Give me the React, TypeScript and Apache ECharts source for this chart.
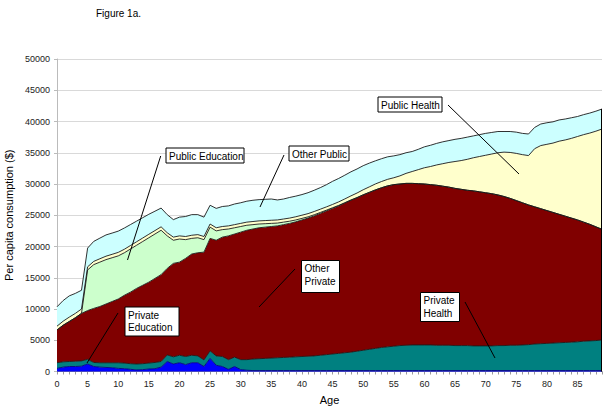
import React, { useEffect, useRef } from "react";
import * as echarts from "echarts";

const ages: string[] = Array.from({ length: 90 }, (_, i) => String(i));

const privateEducation = [
  500, 700, 800, 800, 850, 1200, 800, 700, 650, 600,
  500, 450, 350, 250, 300, 400, 450, 700, 1600, 1200,
  1400, 1100, 1400, 1400, 800, 2100, 1000, 800, 350, 800,
  300, 200, 150, 150, 150, 150, 150, 150, 150, 150,
  150, 150, 150, 150, 150, 150, 150, 150, 150, 150,
  150, 150, 150, 150, 150, 150, 150, 150, 150, 150,
  150, 150, 150, 150, 150, 150, 150, 150, 150, 150,
  150, 150, 150, 150, 150, 150, 150, 150, 150, 150,
  150, 150, 150, 150, 150, 150, 150, 150, 150, 150,
];

const privateHealth = [
  900, 850, 800, 850, 850, 750, 650, 700, 750, 800,
  900, 900, 900, 950, 950, 950, 1000, 900, 1050, 1150,
  1200, 1300, 1200, 1100, 1050, 1200, 1500, 1600, 1550, 1500,
  1600, 1700, 1850, 1900, 1950, 2000, 2050, 2100, 2150, 2200,
  2250, 2300, 2350, 2450, 2550, 2650, 2750, 2850, 2950, 3100,
  3250, 3400, 3550, 3700, 3800, 3900, 4000, 4050, 4100, 4100,
  4100, 4100, 4050, 4050, 4050, 4000, 4000, 4000, 3950, 3950,
  3950, 3950, 4000, 4000, 4050, 4050, 4100, 4150, 4250, 4300,
  4350, 4400, 4450, 4500, 4550, 4600, 4700, 4750, 4800, 4900,
];

const otherPrivate = [
  5250, 5850, 6400, 6950, 7600, 7800, 8650, 9000, 9400, 9800,
  10200, 10850, 11450, 12100, 12550, 12950, 13450, 13900, 13850, 14950,
  14900, 15700, 16200, 16500, 17250, 18000, 18500, 19100, 19800, 19700,
  20400, 20700, 20800, 20950, 21000, 21050, 21100, 21250, 21400, 21600,
  21850, 22100, 22400, 22700, 23000, 23300, 23600, 23950, 24300, 24550,
  24850, 25100, 25350, 25550, 25750, 25850, 25850, 25900, 25850, 25800,
  25750, 25650, 25600, 25450, 25300, 25150, 25000, 24850, 24800, 24650,
  24500, 24350, 24100, 23850, 23500, 23150, 22750, 22350, 21950, 21600,
  21250, 20900, 20550, 20200, 19850, 19500, 19050, 18650, 18200, 17700,
];

const publicEducation = [
  0, 0, 0, 0, 0, 6500, 7000, 7100, 7100, 7000,
  6900, 6800, 6900, 6900, 7000, 7100, 7100, 7100, 5200, 3700,
  3700, 3000, 2500, 2400, 2000, 1800, 1500, 1200, 1100, 1000,
  900, 800, 700, 600, 550, 500, 450, 400, 350, 300,
  250, 200, 180, 150, 120, 100, 80, 60, 50, 40,
  30, 20, 10, 0, 0, 0, 0, 0, 0, 0,
  0, 0, 0, 0, 0, 0, 0, 0, 0, 0,
  0, 0, 0, 0, 0, 0, 0, 0, 0, 0,
  0, 0, 0, 0, 0, 0, 0, 0, 0, 0,
];

const publicHealth = [
  600, 650, 700, 700, 700, 500, 520, 540, 550, 550,
  560, 560, 560, 560, 560, 560, 550, 550, 500, 500,
  500, 500, 500, 500, 500, 500, 500, 500, 500, 500,
  500, 500, 500, 500, 500, 500, 500, 500, 500, 510,
  510, 510, 520, 520, 520, 530, 560, 600, 650, 720,
  800, 870, 950, 1000, 1050, 1100, 1300, 1600, 1900, 2250,
  2600, 2900, 3250, 3600, 3950, 4300, 4600, 4950, 5300, 5650,
  6000, 6350, 6750, 7100, 7350, 7550, 7700, 7900, 9300, 10100,
  10600, 11100, 11700, 12200, 12750, 13350, 14000, 14600, 15300, 16050,
];

const otherPublic = [
  3100, 3300, 3400, 3200, 3000, 3000, 3200, 3300, 3400, 3400,
  3400, 3400, 3350, 3300, 3250, 3200, 3100, 3000, 2900, 2800,
  3000, 3200, 3300, 3200, 3100, 3000, 3100, 3200, 3200, 3300,
  3300, 3350, 3400, 3400, 3400, 3400, 3200, 3200, 3300, 3300,
  3300, 3350, 3400, 3450, 3550, 3700, 3750, 3800, 3850, 3850,
  3850, 3800, 3700, 3650, 3600, 3500, 3400, 3300, 3200, 3250,
  3350, 3400, 3450, 3500, 3500, 3550, 3550, 3550, 3500, 3500,
  3500, 3450, 3400, 3300, 3350, 3400, 3400, 3450, 3400, 3450,
  3450, 3400, 3400, 3350, 3300, 3200, 3200, 3200, 3200, 3200,
];

const seriesNames = [
  "Private Education",
  "Private Health",
  "Other Private",
  "Public Education",
  "Public Health",
  "Other Public",
];
const seriesColors = ["#0000ff", "#008080", "#800000", "#ccffcc", "#ffffcc", "#ccffff"];

const FONT = "'Liberation Sans', Arial, sans-serif";

function box(x: number, y: number, w: number, h: number, lines: string[], lx1: number, ly1: number, lx2: number, ly2: number) {
  return [
    {
      type: "line",
      shape: { x1: lx1, y1: ly1, x2: lx2, y2: ly2 },
      style: { stroke: "#000", lineWidth: 1 },
      silent: true,
      z: 100,
    },
    {
      type: "rect",
      shape: { x, y, width: w, height: h },
      style: { fill: "#fff", stroke: "#000", lineWidth: 1 },
      silent: true,
      z: 101,
    },
    {
      type: "text",
      x: x + 3,
      y: y + 2,
      style: {
        text: lines.join("\n"),
        font: `10px ${FONT}`,
        fill: "#000",
        lineHeight: 12.5,
        textVerticalAlign: "top",
      },
      silent: true,
      z: 102,
    },
  ];
}

export default function App() {
  const ref = useRef<HTMLDivElement>(null);
  useEffect(() => {
    if (!ref.current) return;
    const chart = echarts.init(ref.current, undefined, { renderer: "svg" });
    const data = [privateEducation, privateHealth, otherPrivate, publicEducation, publicHealth, otherPublic];
    chart.setOption({
      animation: false,
      backgroundColor: "#fff",
      textStyle: { fontFamily: FONT },
      grid: { left: 57, right: 8, top: 59, bottom: 42.5, containLabel: false, outerBoundsMode: "none" },
      xAxis: {
        type: "category",
        data: ages,
        boundaryGap: false,
        name: "Age",
        nameLocation: "middle",
        nameGap: 23,
        nameTextStyle: { fontSize: 11, color: "#000", fontFamily: FONT },
        axisLine: { lineStyle: { color: "#888", width: 1 } },
        axisTick: { show: true, interval: 0, length: 3, lineStyle: { color: "#999" } },
        axisLabel: { interval: 4, fontSize: 9, color: "#222", margin: 8, fontFamily: FONT },
        splitLine: { show: false },
      },
      yAxis: {
        type: "value",
        min: 0,
        max: 50000,
        interval: 5000,
        name: "Per capita consumption ($)",
        nameLocation: "middle",
        nameGap: 40,
        nameTextStyle: { fontSize: 11, color: "#000", fontFamily: FONT },
        axisLine: { show: true, lineStyle: { color: "#bbb" } },
        axisTick: { show: true, length: 3, lineStyle: { color: "#bbb" } },
        axisLabel: {
          fontSize: 9,
          color: "#222",
          margin: 7,
          fontFamily: FONT,
          formatter: (v: number) => String(v),
        },
        splitLine: { show: true, lineStyle: { color: "#d9d9d9", width: 1 } },
      },
      series: seriesNames.map((name, i) => ({
        name,
        type: "line",
        stack: "total",
        data: data[i],
        symbol: "none",
        smooth: false,
        lineStyle: { color: i === 0 ? "#000080" : "#1a1a1a", width: 0.9 },
        itemStyle: { color: seriesColors[i] },
        areaStyle: { color: seriesColors[i], opacity: 1 },
        z: 2,
      })),
      graphic: [
        {
          type: "text",
          x: 96,
          y: 13.5,
          style: { text: "Figure 1a.", font: `10px ${FONT}`, fill: "#000", textVerticalAlign: "middle" },
        },
        {
          type: "line",
          shape: { x1: 601.5, y1: 109, x2: 601.5, y2: 371.5 },
          style: { stroke: "#000", lineWidth: 1 },
          silent: true,
          z: 50,
        },
        ...box(166, 148, 78, 15, ["Public Education"], 160.7, 156, 127.5, 260),
        ...box(289, 146, 60, 15, ["Other Public"], 284, 155, 260, 207),
        ...box(378, 97, 64, 15, ["Public Health"], 448, 105, 519, 174),
        ...box(301.5, 260.5, 38, 32, ["Other", "Private"], 295, 269, 259, 307),
        ...box(125, 307, 54, 29, ["Private", "Education"], 118, 313, 87, 363),
        ...box(420.5, 292.5, 39, 29, ["Private", "Health"], 465, 302, 495, 358),
      ],
    });
    return () => chart.dispose();
  }, []);
  return <div ref={ref} style={{ width: 610, height: 414, position: "absolute", left: 0, top: 0 }} />;
}
